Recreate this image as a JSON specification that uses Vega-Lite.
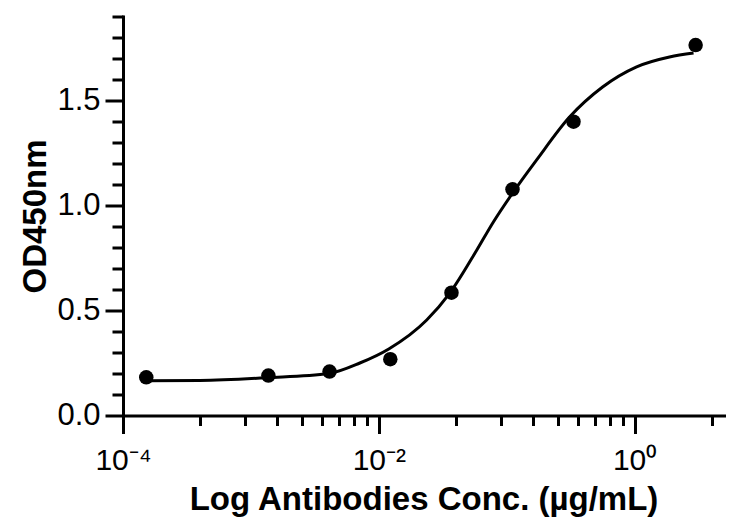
{
  "$schema": "https://vega.github.io/schema/vega-lite/v6.json",
  "width": 601,
  "height": 399,
  "autosize": {"type": "none"},
  "padding": {"left": 123, "top": 16.5, "right": 20, "bottom": 113.5},
  "background": "white",
  "config": {"view": {"stroke": null}, "font": "Liberation Sans"},
  "datasets": {
    "curve": [
      {"conc": 0.000149, "od": 0.166},
      {"conc": 0.0004, "od": 0.167},
      {"conc": 0.00133, "od": 0.180},
      {"conc": 0.00406, "od": 0.200},
      {"conc": 0.00711, "od": 0.250},
      {"conc": 0.01197, "od": 0.317},
      {"conc": 0.0237, "od": 0.455},
      {"conc": 0.0359, "od": 0.583},
      {"conc": 0.0584, "od": 0.788},
      {"conc": 0.0778, "od": 0.917},
      {"conc": 0.1114, "od": 1.060},
      {"conc": 0.1714, "od": 1.217},
      {"conc": 0.310, "od": 1.421},
      {"conc": 0.562, "od": 1.564},
      {"conc": 1.037, "od": 1.660},
      {"conc": 1.875, "od": 1.707},
      {"conc": 2.89, "od": 1.726}
    ],
    "points": [
      {"conc": 0.000152, "od": 0.182},
      {"conc": 0.00137, "od": 0.190},
      {"conc": 0.00412, "od": 0.209},
      {"conc": 0.0123, "od": 0.268},
      {"conc": 0.037, "od": 0.585},
      {"conc": 0.111, "od": 1.077},
      {"conc": 0.333, "od": 1.399},
      {"conc": 3, "od": 1.764}
    ]
  },
  "resolve": {"axis": {"x": "independent", "y": "independent"}},
  "layer": [
    {
      "data": {"name": "curve"},
      "mark": {"type": "line", "interpolate": "monotone", "color": "black", "strokeWidth": 3},
      "encoding": {
        "x": {
          "field": "conc", "type": "quantitative",
          "scale": {"type": "log", "domain": [0.0001, 5], "nice": false},
          "axis": {
            "orient": "bottom",
            "values": [0.0001, 0.01, 1],
            "labelExpr": "datum.value < 0.001 ? '10⁻⁴' : datum.value < 0.1 ? '10⁻²' : '10⁰'",
            "tickSize": 18, "tickWidth": 3, "tickColor": "black",
            "domainWidth": 3, "domainColor": "black", "domainCap": "square",
            "labelFontSize": 30, "labelColor": "black", "labelPadding": 36,
            "labelBaseline": "alphabetic",
            "labelFlush": false, "labelOverlap": false,
            "grid": false,
            "title": "Log Antibodies Conc. (µg/mL)",
            "titleFontSize": 33, "titleFontWeight": "bold", "titleColor": "black",
            "titleBaseline": "alphabetic", "titleY": 94
          }
        },
        "y": {
          "field": "od", "type": "quantitative",
          "scale": {"domain": [0, 1.9], "nice": false},
          "axis": {
            "orient": "left",
            "values": [0, 0.5, 1, 1.5],
            "format": ".1f",
            "tickSize": 18, "tickWidth": 3, "tickColor": "black",
            "domainWidth": 3, "domainColor": "black", "domainCap": "square",
            "labelFontSize": 31, "labelColor": "black", "labelPadding": 5,
            "labelFlush": false, "labelOverlap": false,
            "grid": false,
            "title": "OD450nm",
            "titleFontSize": 33, "titleFontWeight": "bold", "titleColor": "black",
            "titleBaseline": "alphabetic", "titleX": -78, "titleY": 199.5, "titleAngle": -90
          }
        }
      }
    },
    {
      "data": {"name": "points"},
      "mark": {"type": "point", "filled": true, "color": "black", "opacity": 1, "size": 210},
      "encoding": {
        "x": {
          "field": "conc", "type": "quantitative",
          "axis": {
            "orient": "bottom",
            "values": [0.0004, 0.0009, 0.0016, 0.0025, 0.0036, 0.0049, 0.0064, 0.0081, 0.04, 0.09, 0.16, 0.25, 0.36, 0.49, 0.64, 0.81, 4],
            "labels": false, "domain": false, "grid": false, "title": null,
            "tickSize": 10, "tickWidth": 3, "tickColor": "black"
          }
        },
        "y": {
          "field": "od", "type": "quantitative",
          "axis": {
            "orient": "left",
            "values": [0.1, 0.2, 0.3, 0.4, 0.6, 0.7, 0.8, 0.9, 1.1, 1.2, 1.3, 1.4, 1.6, 1.7, 1.8, 1.9],
            "labels": false, "domain": false, "grid": false, "title": null,
            "tickSize": 11, "tickWidth": 3, "tickColor": "black"
          }
        }
      }
    }
  ]
}
